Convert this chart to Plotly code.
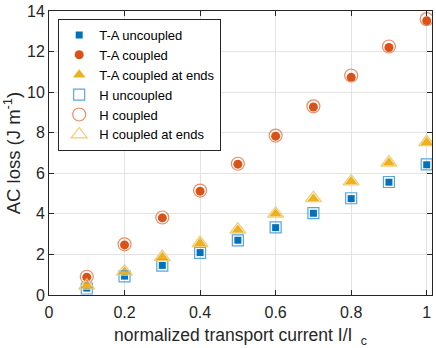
import plotly.graph_objects as go

x = [0.1, 0.2, 0.3, 0.4, 0.5, 0.6, 0.7, 0.8, 0.9, 1.0]

ta_uncoupled = [0.34, 0.93, 1.46, 2.09, 2.70, 3.32, 4.03, 4.75, 5.56, 6.42]
ta_coupled = [0.88, 2.47, 3.80, 5.12, 6.45, 7.83, 9.27, 10.73, 12.20, 13.52]
ta_ends = [0.45, 1.14, 1.86, 2.55, 3.20, 4.00, 4.75, 5.59, 6.52, 7.53]
h_uncoupled = [0.32, 0.92, 1.45, 2.08, 2.69, 3.33, 4.04, 4.77, 5.57, 6.44]
h_coupled = [0.90, 2.50, 3.82, 5.15, 6.47, 7.86, 9.30, 10.82, 12.25, 13.60]
h_ends = [0.46, 1.15, 1.87, 2.56, 3.22, 4.01, 4.77, 5.60, 6.53, 7.54]

BLUE = "#0072BD"
ORANGE = "#D95319"
YELLOW = "#EDB120"
FONT = "Liberation Sans, Arial, sans-serif"
TXT = "#262626"

fig = go.Figure()

series = [
    ("T-A uncoupled", ta_uncoupled, dict(symbol="square", size=7, color=BLUE)),
    ("T-A coupled", ta_coupled, dict(symbol="circle", size=9, color=ORANGE)),
    ("T-A coupled at ends", ta_ends, dict(symbol="triangle-up", size=11, color=YELLOW)),
    ("H uncoupled", h_uncoupled, dict(symbol="square-open", size=11, color="#5AA5DC",
                                      line=dict(width=1.2, color="#5AA5DC"))),
    ("H coupled", h_coupled, dict(symbol="circle-open", size=13, color="#EE8A62",
                                  line=dict(width=1.2, color="#EE8A62"))),
    ("H coupled at ends", h_ends, dict(symbol="triangle-up-open", size=14, color="#F4CC70",
                                       line=dict(width=1.2, color="#F4CC70"))),
]

for name, y, marker in series:
    fig.add_trace(go.Scatter(x=x, y=y, mode="markers", name=name, marker=marker))

axis_common = dict(
    showline=True, linecolor=TXT, linewidth=1, mirror="ticks",
    ticks="inside", ticklen=5, tickcolor=TXT, ticklabeloverflow="allow",
    showgrid=True, gridcolor="#E3E3E3", gridwidth=1,
    zeroline=False, tickfont=dict(family=FONT, size=16, color=TXT),
)

fig.update_layout(
    width=436, height=348,
    margin=dict(l=49, r=3, t=6, b=53),
    paper_bgcolor="white", plot_bgcolor="white",
    font=dict(family=FONT, color=TXT),
    xaxis=dict(range=[0, 1.014], tickvals=[0, 0.2, 0.4, 0.6, 0.8, 1],
               ticktext=["0", "0.2", "0.4", "0.6", "0.8", "1"], ticklabelstandoff=3,
               title=dict(text="normalized transport current I/I\u2009 <sub>c</sub>",
                          font=dict(family=FONT, size=17.5, color=TXT), standoff=8),
               **axis_common),
    yaxis=dict(range=[0, 14], tickvals=[0, 2, 4, 6, 8, 10, 12, 14],
               ticktext=["0", "2", "4", "6", "8", "10", "12", "14"],
               title=dict(text="AC loss (J m<sup>-1</sup>)",
                          font=dict(family=FONT, size=18.5, color=TXT), standoff=2),
               **axis_common),
    legend=dict(x=0.024, y=0.972, xanchor="left", yanchor="top",
                bgcolor="white", bordercolor="#262626", borderwidth=1,
                font=dict(family=FONT, size=13, color="#000000"),
                itemwidth=30, tracegroupgap=0),
    showlegend=True,
)

fig.write_html("out.html", config={"displayModeBar": False},
               post_script="document.body.style.margin='0';")
